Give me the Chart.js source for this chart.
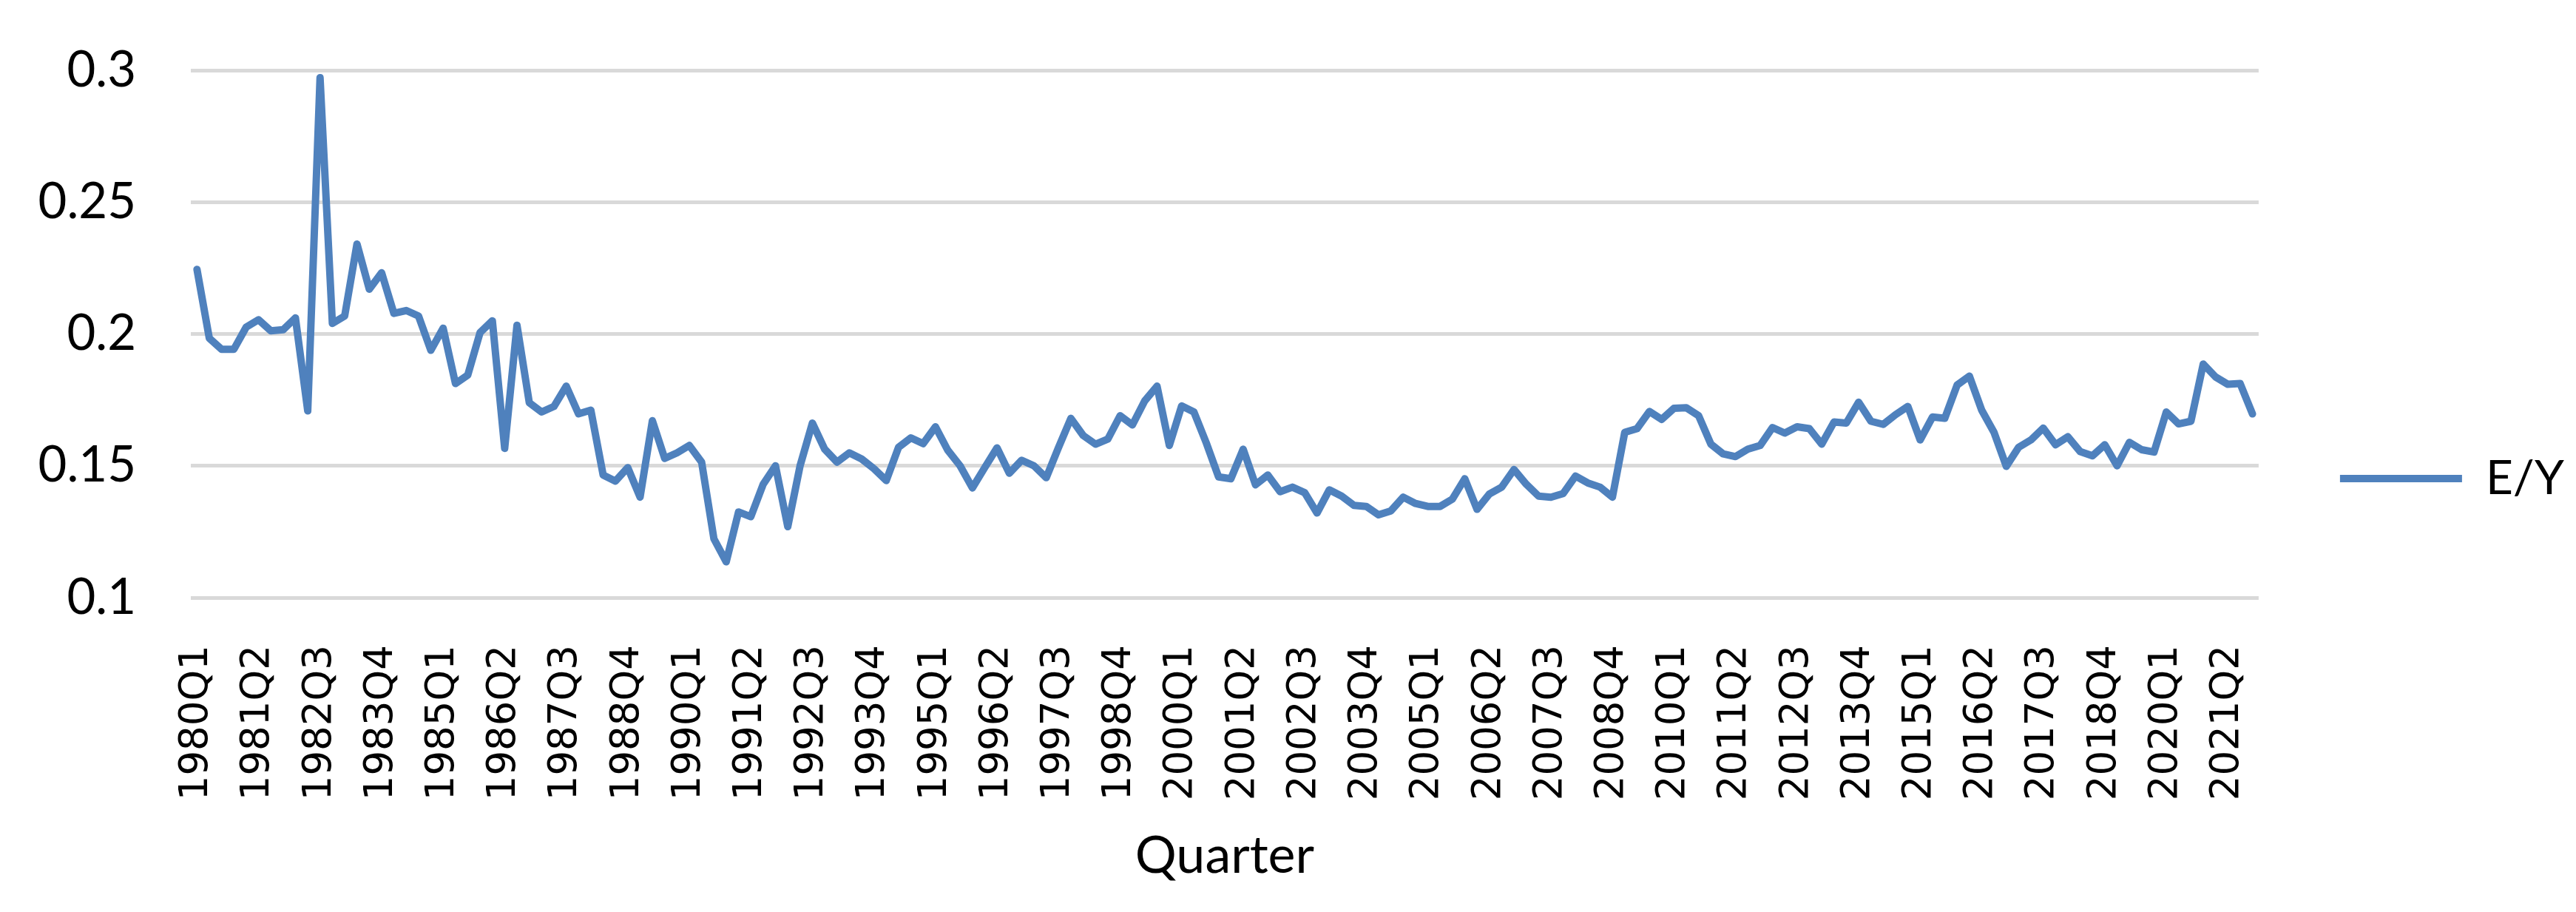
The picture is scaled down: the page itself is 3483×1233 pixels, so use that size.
<!DOCTYPE html>
<html>
<head>
<meta charset="utf-8">
<title>E/Y by quarter</title>
<script src="https://cdn.jsdelivr.net/npm/chart.js@4.4.0/dist/chart.umd.min.js"></script>
<style>
    html, body { margin: 0; padding: 0; background: #fff; }
    #wrap { width: 3483px; height: 1233px; position: relative; }
</style>
</head>
<body>
<div id="wrap"><canvas id="eyChart"></canvas></div>
<script>
// Categories: 1980Q1 .. 2021Q4
const years = [];
for (let y = 1980; y <= 2021; y++) years.push(y);
const quarters = ['Q1', 'Q2', 'Q3', 'Q4'];
const categories = years.flatMap(y => quarters.map(q => y + q));

// E/Y, one value per quarter, two years per row
const eyValues = [
    0.2245, 0.1984, 0.1942, 0.1942, 0.2026, 0.2054, 0.2012, 0.2016,
    0.2061, 0.1708, 0.2972, 0.2040, 0.2068, 0.2341, 0.2170, 0.2232,
    0.2078, 0.2089, 0.2068, 0.1938, 0.2022, 0.1812, 0.1844, 0.2005,
    0.2050, 0.1566, 0.2033, 0.1739, 0.1704, 0.1725, 0.1802, 0.1697,
    0.1711, 0.1465, 0.1442, 0.1493, 0.1381, 0.1671, 0.1528, 0.1549,
    0.1577, 0.1514, 0.1223, 0.1136, 0.1325, 0.1307, 0.1430, 0.1500,
    0.1269, 0.1500, 0.1662, 0.1563, 0.1514, 0.1549, 0.1526, 0.1489,
    0.1444, 0.1570, 0.1606, 0.1584, 0.1648, 0.1559, 0.1500, 0.1416,
    0.1493, 0.1568, 0.1472, 0.1521, 0.1500, 0.1455, 0.1570, 0.1680,
    0.1615, 0.1582, 0.1601, 0.1690, 0.1655, 0.1746, 0.1802, 0.1577,
    0.1727, 0.1704, 0.1587, 0.1458, 0.1451, 0.1563, 0.1428, 0.1465,
    0.1402, 0.1419, 0.1398, 0.1321, 0.1409, 0.1385, 0.1350, 0.1346,
    0.1314, 0.1329, 0.1381, 0.1357, 0.1346, 0.1346, 0.1374, 0.1451,
    0.1335, 0.1393, 0.1419, 0.1486, 0.1430, 0.1385, 0.1381, 0.1395,
    0.1461, 0.1435, 0.1419, 0.1381, 0.1627, 0.1641, 0.1706, 0.1676,
    0.1718, 0.1720, 0.1690, 0.1582, 0.1545, 0.1535, 0.1563, 0.1577,
    0.1645, 0.1624, 0.1648, 0.1641, 0.1582, 0.1666, 0.1662, 0.1741,
    0.1669, 0.1657, 0.1694, 0.1725, 0.1598, 0.1685, 0.1680, 0.1806,
    0.1840, 0.1711, 0.1627, 0.1498, 0.1570, 0.1598, 0.1643, 0.1580,
    0.1610, 0.1554, 0.1538, 0.1580, 0.1500, 0.1589, 0.1561, 0.1552,
    0.1704, 0.1659, 0.1669, 0.1886, 0.1837, 0.1809, 0.1812, 0.1697
];

// Labels shown on the x axis
const tickLabels = [
    '1980Q1', '1981Q2', '1982Q3', '1983Q4', '1985Q1', '1986Q2', '1987Q3',
    '1988Q4', '1990Q1', '1991Q2', '1992Q3', '1993Q4', '1995Q1', '1996Q2',
    '1997Q3', '1998Q4', '2000Q1', '2001Q2', '2002Q3', '2003Q4', '2005Q1',
    '2006Q2', '2007Q3', '2008Q4', '2010Q1', '2011Q2', '2012Q3', '2013Q4',
    '2015Q1', '2016Q2', '2017Q3', '2018Q4', '2020Q1', '2021Q2'
];

// Y axis range
const yMin = 0.1;
const yMax = 0.3;
const yStep = 0.05;

const seriesName = 'E/Y';
const axisTitle = 'Quarter';

const shownTicks = new Set(tickLabels);
const lineColor = '#4f81bd';
const uiFont = 'Lato';

new Chart(document.getElementById('eyChart'), {
    type: 'line',
    data: {
        labels: categories,
        datasets: [{
            label: seriesName,
            data: eyValues,
            borderColor: lineColor,
            backgroundColor: lineColor,
            borderWidth: 10,
            borderJoinStyle: 'round',
            borderCapStyle: 'round',
            pointRadius: 0,
            tension: 0,
            fill: false
        }]
    },
    options: {
        responsive: true,
        maintainAspectRatio: false,
        animation: false,
        events: [],
        layout: {
            padding: { left: 50, right: 6, top: 95, bottom: 34 }
        },
        plugins: {
            legend: {
                position: 'right',
                labels: {
                    usePointStyle: true,
                    pointStyle: 'line',
                    pointStyleWidth: 165,
                    padding: 110,
                    color: '#000',
                    font: { family: uiFont, size: 64 }
                }
            },
            tooltip: { enabled: false }
        },
        scales: {
            x: {
                offset: true,
                // invisible tick marks only give the gap between axis and labels
                grid: {
                    display: true,
                    color: 'rgba(0,0,0,0)',
                    drawOnChartArea: false,
                    drawTicks: true,
                    tickLength: 64
                },
                border: { display: false },
                afterFit: scale => { scale.height = 391; },
                ticks: {
                    autoSkip: false,
                    minRotation: 90,
                    maxRotation: 90,
                    padding: 0,
                    color: '#000',
                    font: { family: '"DejaVu Sans"', size: 53 },
                    callback: function (value) {
                        const label = this.getLabelForValue(value);
                        return shownTicks.has(label) ? label : '';
                    }
                },
                title: {
                    display: true,
                    text: axisTitle,
                    color: '#000',
                    font: { family: uiFont, size: 70 },
                    padding: { top: 0, bottom: 0 }
                }
            },
            y: {
                min: yMin,
                max: yMax,
                grid: { color: '#d9d9d9', lineWidth: 5, drawTicks: false },
                border: { display: false },
                afterFit: scale => { scale.width = 208; },
                ticks: {
                    stepSize: yStep,
                    padding: 74,
                    color: '#000',
                    font: { family: uiFont, size: 67, lineHeight: 0.5 },
                    callback: v => String(+v.toFixed(2))
                }
            }
        }
    }
});
</script>
</body>
</html>
